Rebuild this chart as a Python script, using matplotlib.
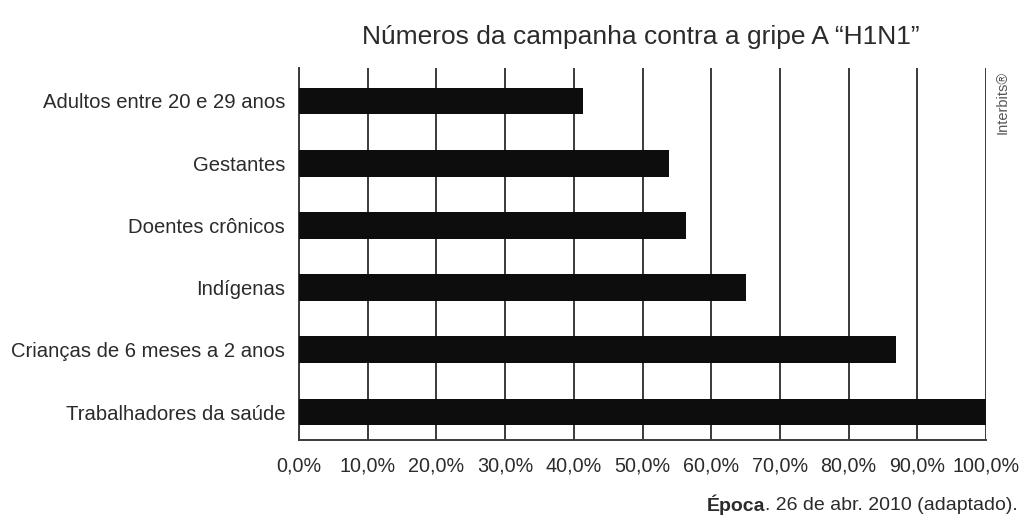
"""Números da campanha contra a gripe A (H1N1) — horizontal bar chart."""
import matplotlib
matplotlib.use("Agg")
import matplotlib.pyplot as plt
from matplotlib.ticker import FuncFormatter

plt.rcParams["font.family"] = ["Liberation Sans", "DejaVu Sans"]

GROUPS = [
    "Adultos entre 20 e 29 anos",
    "Gestantes",
    "Doentes crônicos",
    "Indígenas",
    "Crianças de 6 meses a 2 anos",
    "Trabalhadores da saúde",
]
COVERAGE = [41.3, 53.9, 56.3, 65.1, 86.9, 100.0]  # percent vaccinated
XTICKS = [0, 10, 20, 30, 40, 50, 60, 70, 80, 90, 100]

TEXT = "#2b2b2b"
GRID = "#3a3a3a"

fig = plt.figure(figsize=(10.22, 5.25), dpi=100)
ax = fig.add_axes([0.2926, 0.1619, 0.6722, 0.7086])

ypos = list(range(len(GROUPS)))
ax.barh(ypos, COVERAGE, height=0.43, color="#0d0d0d", zorder=3)

ax.set_xlim(0, 100)
ax.set_ylim(5.45, -0.53)
ax.set_xticks(XTICKS)
ax.xaxis.set_major_formatter(FuncFormatter(lambda v, _: f"{v:.1f}%".replace(".", ",")))
ax.set_yticks(ypos)
ax.set_yticklabels(GROUPS)
ax.tick_params(axis="both", length=0, colors=TEXT)
ax.tick_params(axis="x", pad=12, labelsize=14.2)
ax.tick_params(axis="y", pad=10, labelsize=14.6)

ax.grid(axis="x", color=GRID, linewidth=1.4, zorder=1)
for side in ("top", "right"):
    ax.spines[side].set_visible(False)
for side in ("left", "bottom"):
    ax.spines[side].set_color(GRID)
    ax.spines[side].set_linewidth(1.4)

fig.text(0.627, 0.93, "Números da campanha contra a gripe A \u201cH1N1\u201d",
         ha="center", va="center", fontsize=19, color=TEXT)
fig.text(0.981, 0.865, "Interbits®", rotation=90, ha="center", va="top",
         fontsize=10.5, color="#555555")

# source line: bold magazine name, then the date, right-aligned
src = fig.text(0.996, 0.038, ". 26 de abr. 2010 (adaptado).", ha="right",
               va="center", fontsize=14, color=TEXT)
fig.canvas.draw()
x0 = src.get_window_extent().x0 / fig.bbox.width
fig.text(x0, 0.038, "Época", ha="right", va="center", fontsize=14,
         color=TEXT, fontweight="bold")

fig.savefig("out.png", dpi=100)
